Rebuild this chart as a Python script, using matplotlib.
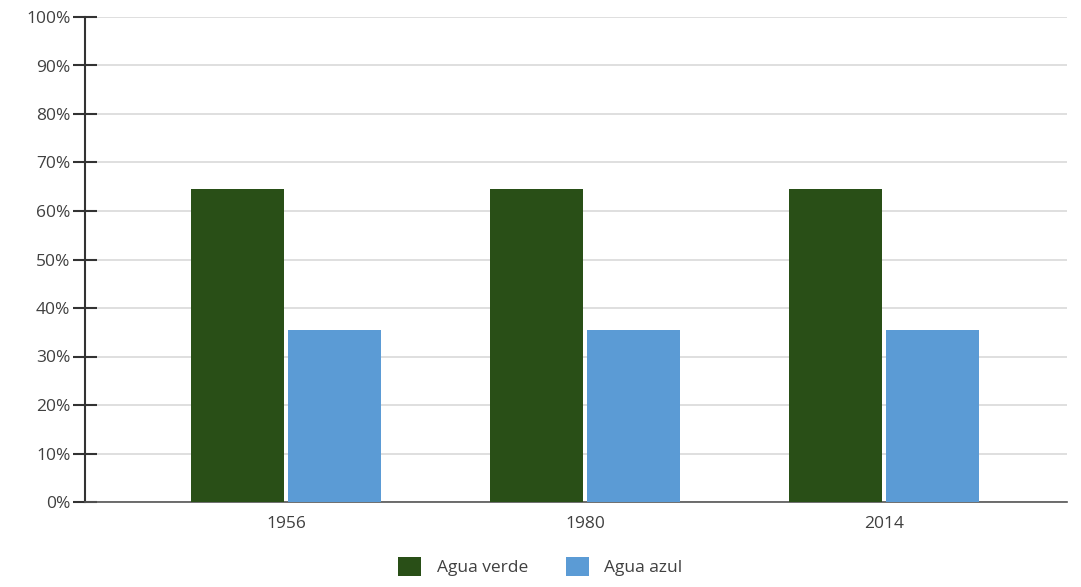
import numpy as np
import matplotlib.pyplot as plt
from matplotlib.ticker import PercentFormatter

years = ["1956", "1980", "2014"]
agua_verde = [64.5, 64.5, 64.5]
agua_azul = [35.5, 35.5, 35.5]

green = "#294f17"
blue = "#5b9bd5"
text_col = "#404040"

plt.rcParams["font.family"] = ["Open Sans", "DejaVu Sans"]

fig = plt.figure(figsize=(10.81, 5.87), dpi=100)
ax = fig.add_axes([85 / 1081, 85 / 587, 982 / 1081, 485 / 587])

x = np.arange(len(years))
w = 0.311
ax.bar(x - w / 2 - 0.007, agua_verde, width=w, color=green, label="Agua verde", zorder=3)
ax.bar(x + w / 2 + 0.007, agua_azul, width=w, color=blue, label="Agua azul", zorder=3)

ax.set_xlim(-0.672, 2.612)
ax.set_ylim(0, 100)
ax.set_yticks(np.arange(0, 101, 10))
ax.yaxis.set_major_formatter(PercentFormatter(decimals=0))
ax.set_xticks(x)
ax.set_xticklabels(years)

ax.grid(axis="y", color="#d9d9d9", linewidth=1.2, zorder=0)
ax.tick_params(axis="y", direction="inout", length=17, width=1.5, color="#333333",
               labelsize=12.5, labelcolor=text_col, pad=2)
ax.tick_params(axis="x", length=0, labelsize=12.5, labelcolor=text_col, pad=10)

for s in ["top", "right"]:
    ax.spines[s].set_visible(False)
ax.spines["left"].set_color("#333333")
ax.spines["left"].set_linewidth(1.5)
ax.spines["bottom"].set_color("#555555")
ax.spines["bottom"].set_linewidth(1.2)

fig.legend(loc="lower center", bbox_to_anchor=(0.5, -0.008), ncol=2, frameon=False,
           fontsize=12.5, handlelength=1.3, handleheight=1.3, handletextpad=0.9,
           columnspacing=2.2, labelcolor=text_col)

fig.savefig("out.png", dpi=100)
